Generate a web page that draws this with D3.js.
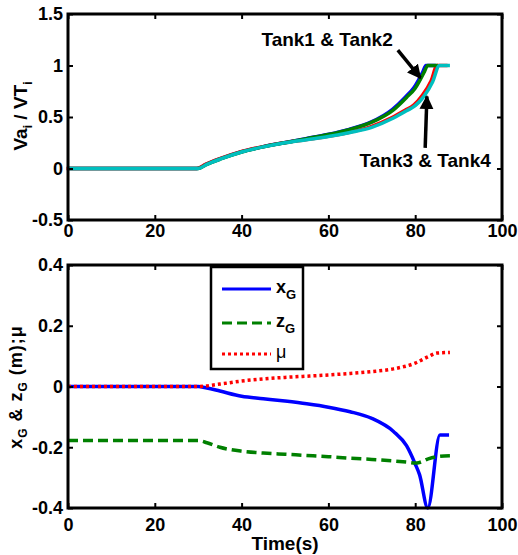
<!DOCTYPE html>
<html>
<head>
<meta charset="utf-8">
<script src="https://cdn.jsdelivr.net/npm/d3@7"></script>
<style>
  body { margin: 0; background: #fff; }
  text { font-family: "Liberation Sans", Arial, sans-serif; font-weight: bold; }
</style>
</head>
<body>
<div id="chart"></div>
<script>
// time samples (s) and series
let tank1T = [0, 30, 32, 35, 40, 45, 50, 55, 60, 65, 70, 75, 78, 80, 82, 82.7, 85];
let tank1V = [0, 0, 0.04, 0.09, 0.16, 0.21, 0.25, 0.29, 0.33, 0.38, 0.45, 0.575, 0.695, 0.79, 0.94, 1, 1];
let tank2T = [0, 30, 32, 35, 40, 45, 50, 55, 60, 65, 70, 75, 78, 80, 82, 82.9, 85.2];
let tank2V = [0, 0, 0.04, 0.09, 0.16, 0.21, 0.25, 0.29, 0.33, 0.38, 0.45, 0.57, 0.69, 0.78, 0.93, 1, 1];
let tank3T = [0, 30, 32, 35, 40, 45, 50, 55, 60, 65, 70, 75, 78, 80, 82, 84, 85.4, 87.8];
let tank3V = [0, 0, 0.04, 0.09, 0.16, 0.21, 0.25, 0.28, 0.31, 0.35, 0.405, 0.495, 0.565, 0.615, 0.71, 0.85, 1, 1];
let tank4T = [0, 30, 32, 35, 40, 45, 50, 55, 60, 65, 70, 75, 78, 80, 82, 84, 85.6, 88];
let tank4V = [0, 0, 0.04, 0.09, 0.16, 0.21, 0.25, 0.28, 0.31, 0.35, 0.4, 0.49, 0.56, 0.61, 0.7, 0.84, 1, 1];

let cgT = [0, 30, 32, 35, 40, 45, 50, 55, 60, 65, 70, 75, 78, 80, 81, 82.9, 85.7, 87.8];
let xG = [0, 0, -0.005, -0.015, -0.032, -0.04, -0.048, -0.057, -0.068, -0.083, -0.105, -0.148, -0.195, -0.255, -0.29, -0.4, -0.16, -0.16];
let zGT = [0, 30, 32, 35, 40, 45, 50, 55, 60, 65, 70, 75, 78, 80, 81, 83, 85, 88];
let zG = [-0.178, -0.178, -0.185, -0.2, -0.213, -0.219, -0.223, -0.227, -0.231, -0.236, -0.24, -0.245, -0.249, -0.252, -0.25, -0.238, -0.231, -0.228];
let muT = [0, 30, 35, 40, 45, 50, 55, 60, 65, 70, 75, 80, 83, 85, 88];
let mu = [0, 0, 0.008, 0.018, 0.025, 0.03, 0.034, 0.038, 0.043, 0.049, 0.058, 0.077, 0.098, 0.11, 0.112];

let xTicks = [0, 20, 40, 60, 80, 100];
let topTicks = [-0.5, 0, 0.5, 1, 1.5];
let botTicks = [-0.4, -0.2, 0, 0.2, 0.4];

let width = 518,
  height = 555;

let svg = d3
  .select("#chart")
  .append("svg")
  .attr("width", width)
  .attr("height", height);

let x = d3.scaleLinear().domain([0, 100]).range([68, 502]);
let yTop = d3.scaleLinear().domain([-0.5, 1.5]).range([220, 14]);
let yBot = d3.scaleLinear().domain([-0.4, 0.4]).range([508, 265]);

function zip(ts, vs) {
  return ts.map((t, i) => ({ t: t, v: vs[i] }));
}

function drawFrame(y, ticks, topY, botY, pad) {
  let g = svg.append("g");
  // ticks inward on all four sides
  g.append("g")
    .attr("transform", "translate(0," + botY + ")")
    .call(d3.axisBottom(x).tickValues(xTicks).tickSize(-5).tickPadding(pad));
  g.append("g")
    .attr("transform", "translate(0," + topY + ")")
    .call(d3.axisTop(x).tickValues(xTicks).tickSize(-5).tickFormat(""));
  g.append("g")
    .attr("transform", "translate(68,0)")
    .call(d3.axisLeft(y).tickValues(ticks).tickSize(-5).tickPadding(5).tickFormat((d) => String(d)));
  g.append("g")
    .attr("transform", "translate(502,0)")
    .call(d3.axisRight(y).tickValues(ticks).tickSize(-5).tickFormat(""));
  g.selectAll(".domain").remove();
  g.selectAll(".tick line").attr("stroke", "black").attr("stroke-width", 2);
  g.selectAll(".tick text")
    .attr("font-size", 18)
    .attr("fill", "black")
    .attr("font-family", "Liberation Sans, Arial, sans-serif")
    .attr("font-weight", "bold");
  g.append("rect")
    .attr("x", 68)
    .attr("y", topY)
    .attr("width", 434)
    .attr("height", botY - topY)
    .attr("fill", "none")
    .attr("stroke", "black")
    .attr("stroke-width", 3);
}

// ---------- top panel ----------
let lineTop = d3
  .line()
  .x((d) => x(d.t))
  .y((d) => yTop(d.v))
  .curve(d3.curveMonotoneX);

let tanks = [
  { d: zip(tank1T, tank1V), c: "#0000ff", dx: -1 },
  { d: zip(tank3T, tank3V), c: "#ff0000", dx: -1.5 },
  { d: zip(tank2T, tank2V), c: "#008000", dx: 0 },
  { d: zip(tank4T, tank4V), c: "#00bfbf", dx: 0 },
];
tanks.forEach((s) =>
  svg
    .append("path")
    .datum(s.d)
    .attr("d", lineTop)
    .attr("fill", "none")
    .attr("stroke", s.c)
    .attr("stroke-width", 3.5)
    .attr("transform", "translate(" + s.dx + ",0)")
);

drawFrame(yTop, topTicks, 14, 220, 4);

// annotations
svg.append("defs")
  .append("marker")
  .attr("id", "arr")
  .attr("viewBox", "0 0 10 10")
  .attr("refX", 9)
  .attr("refY", 5)
  .attr("markerWidth", 4)
  .attr("markerHeight", 4)
  .attr("orient", "auto")
  .append("path")
  .attr("d", "M0,0 L10,5 L0,10 z")
  .attr("fill", "black");

svg.append("text")
  .attr("x", x(59.7))
  .attr("y", yTop(1.19))
  .attr("text-anchor", "middle")
  .attr("font-size", 19)
  .text("Tank1 & Tank2");
svg.append("line")
  .attr("x1", x(76.0))
  .attr("y1", yTop(1.15))
  .attr("x2", x(81.2))
  .attr("y2", yTop(0.88))
  .attr("stroke", "black")
  .attr("stroke-width", 3.5)
  .attr("marker-end", "url(#arr)");

svg.append("text")
  .attr("x", x(82.3))
  .attr("y", yTop(0.01))
  .attr("text-anchor", "middle")
  .attr("font-size", 19)
  .text("Tank3 & Tank4");
svg.append("line")
  .attr("x1", x(82.3))
  .attr("y1", yTop(0.2))
  .attr("x2", x(82.7))
  .attr("y2", yTop(0.7))
  .attr("stroke", "black")
  .attr("stroke-width", 3.5)
  .attr("marker-end", "url(#arr)");

// y label top
let yl1 = svg.append("text")
  .attr("transform", "translate(27,116) rotate(-90)")
  .attr("text-anchor", "middle")
  .attr("font-size", 19);
yl1.append("tspan").text("Va");
yl1.append("tspan").attr("font-size", 12).attr("dy", 5).text("i");
yl1.append("tspan").attr("dy", -5).text(" / VT");
yl1.append("tspan").attr("font-size", 12).attr("dy", 5).text("i");

// ---------- bottom panel ----------
let lineBot = d3
  .line()
  .x((d) => x(d.t))
  .y((d) => yBot(d.v))
  .curve(d3.curveMonotoneX);

let cg = [
  { d: zip(cgT, xG), c: "#0000ff", dash: null },
  { d: zip(zGT, zG), c: "#008000", dash: "10,5" },
  { d: zip(muT, mu), c: "#ff0000", dash: "3,3" },
];
cg.forEach((s) =>
  svg
    .append("path")
    .datum(s.d)
    .attr("d", lineBot)
    .attr("fill", "none")
    .attr("stroke", s.c)
    .attr("stroke-width", 3.5)
    .attr("stroke-dasharray", s.dash)
);

drawFrame(yBot, botTicks, 265, 508, 10);

// legend
let leg = svg.append("g");
leg.append("rect")
  .attr("x", 211)
  .attr("y", 267)
  .attr("width", 92)
  .attr("height", 102)
  .attr("fill", "white")
  .attr("stroke", "black")
  .attr("stroke-width", 2.5);
let legNames = [
  ["x", "G"],
  ["z", "G"],
  ["\u03bc", ""],
];
let legY = [289, 323, 354];
cg.forEach((s, i) => {
  leg.append("line")
    .attr("x1", 222)
    .attr("x2", 271)
    .attr("y1", legY[i])
    .attr("y2", legY[i])
    .attr("stroke", s.c)
    .attr("stroke-width", 3)
    .attr("stroke-dasharray", s.dash);
  let t = leg.append("text")
    .attr("x", 276)
    .attr("y", legY[i] + 4)
    .attr("font-size", 18);
  t.append("tspan").text(legNames[i][0]).attr("font-weight", i == 2 ? "normal" : "bold");
  if (legNames[i][1]) t.append("tspan").attr("font-size", 13).attr("dy", 6).text(legNames[i][1]);
});

// y label bottom
let yl2 = svg.append("text")
  .attr("transform", "translate(22,387) rotate(-90)")
  .attr("text-anchor", "middle")
  .attr("font-size", 18)
  .attr("letter-spacing", 1);
yl2.append("tspan").text("x");
yl2.append("tspan").attr("font-size", 12).attr("dy", 5).text("G");
yl2.append("tspan").attr("dy", -5).text(" & z");
yl2.append("tspan").attr("font-size", 12).attr("dy", 5).text("G");
yl2.append("tspan").attr("dy", -5).text(" (m);\u03bc");

// x label
svg.append("text")
  .attr("x", 285)
  .attr("y", 550)
  .attr("text-anchor", "middle")
  .attr("font-size", 19)
  .text("Time(s)");
</script>
</body>
</html>
